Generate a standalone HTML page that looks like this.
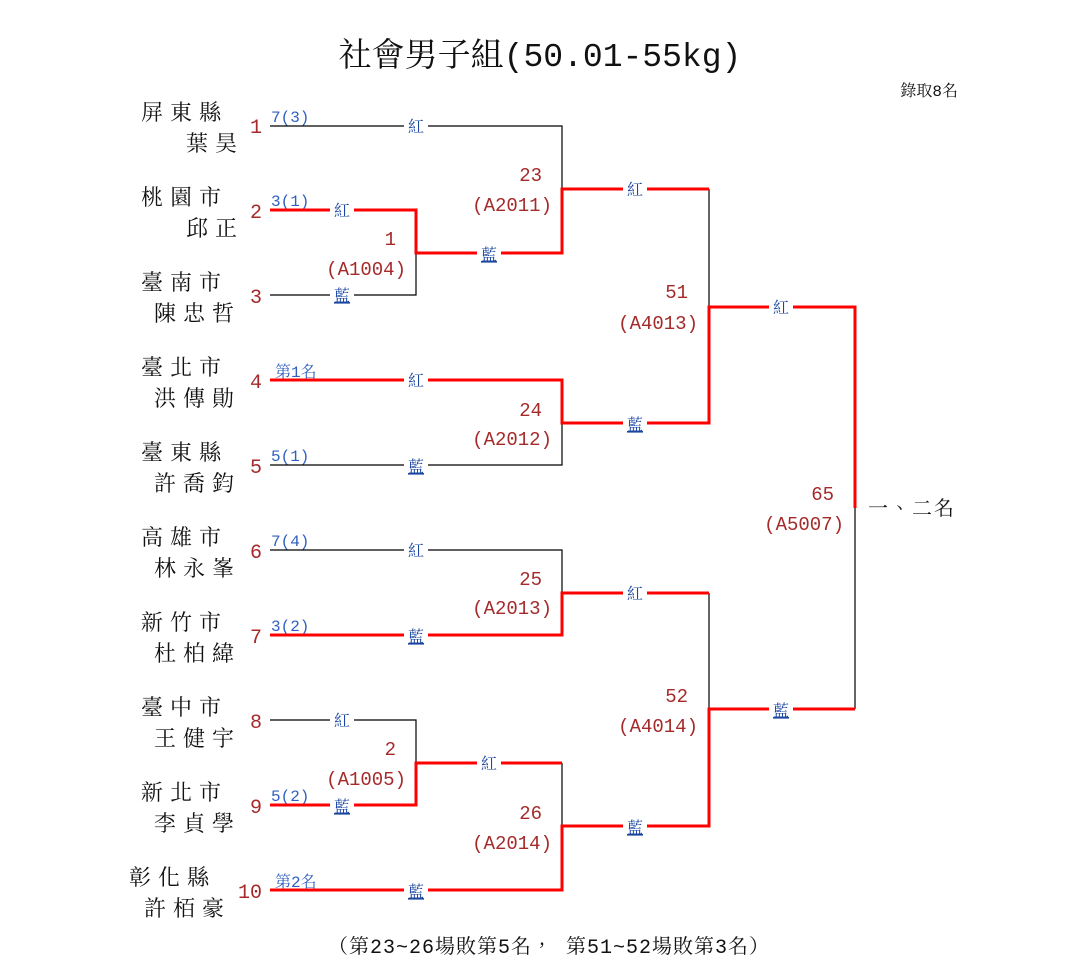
<!DOCTYPE html>
<html><head><meta charset="utf-8"><style>
html,body{margin:0;padding:0;background:#fff}
svg{display:block}
.t{font-family:"Liberation Mono","Noto Serif CJK TC","Noto Serif CJK SC",monospace}
.nm{font-family:"Liberation Serif","Noto Serif CJK TC",serif;font-size:22px;letter-spacing:7px;fill:#111}
.sd{font-size:20px;fill:#a52a2a}
.sm{font-size:16px;fill:#3060c0}
.lb{font-family:"Liberation Serif","Noto Serif CJK TC",serif;font-size:16px;fill:#1a45a0}
.u{text-decoration:underline}
.mn{font-size:19px;fill:#a52a2a}
</style></head><body>
<svg width="1085" height="975" viewBox="0 0 1085 975" xmlns="http://www.w3.org/2000/svg">
<g class="t">
<text x="540" y="66" text-anchor="middle" font-size="33" fill="#111">社會男子組(50.01-55kg)</text>
<text x="958" y="96" text-anchor="end" font-size="16" fill="#111">錄取8名</text>
<text x="549" y="953" text-anchor="middle" font-size="20" letter-spacing="1" fill="#111">（第23~26場敗第5名， 第51~52場敗第3名）</text>

<text class="nm" x="141" y="120">屏東縣</text><text class="nm" x="186" y="151">葉昊</text>
<text class="nm" x="141" y="205">桃園市</text><text class="nm" x="186" y="236">邱正</text>
<text class="nm" x="141" y="290">臺南市</text><text class="nm" x="154" y="321">陳忠哲</text>
<text class="nm" x="141" y="375">臺北市</text><text class="nm" x="154" y="406">洪傳勛</text>
<text class="nm" x="141" y="460">臺東縣</text><text class="nm" x="154" y="491">許喬鈞</text>
<text class="nm" x="141" y="545">高雄市</text><text class="nm" x="154" y="576">林永峯</text>
<text class="nm" x="141" y="630">新竹市</text><text class="nm" x="154" y="661">杜柏緯</text>
<text class="nm" x="141" y="715">臺中市</text><text class="nm" x="154" y="746">王健宇</text>
<text class="nm" x="141" y="800">新北市</text><text class="nm" x="154" y="831">李貞學</text>
<text class="nm" x="129" y="885">彰化縣</text><text class="nm" x="144" y="916">許栢豪</text>

<text class="sd" x="262" y="133" text-anchor="end">1</text>
<text class="sd" x="262" y="218" text-anchor="end">2</text>
<text class="sd" x="262" y="303" text-anchor="end">3</text>
<text class="sd" x="262" y="388" text-anchor="end">4</text>
<text class="sd" x="262" y="473" text-anchor="end">5</text>
<text class="sd" x="262" y="558" text-anchor="end">6</text>
<text class="sd" x="262" y="643" text-anchor="end">7</text>
<text class="sd" x="262" y="728" text-anchor="end">8</text>
<text class="sd" x="262" y="813" text-anchor="end">9</text>
<text class="sd" x="262" y="898" text-anchor="end">10</text>

<text class="sm" x="271" y="122">7(3)</text>
<text class="sm" x="271" y="206">3(1)</text>
<text class="sm" x="275" y="377" font-size="15">第1名</text>
<text class="sm" x="271" y="461">5(1)</text>
<text class="sm" x="271" y="546">7(4)</text>
<text class="sm" x="271" y="631">3(2)</text>
<text class="sm" x="271" y="801">5(2)</text>
<text class="sm" x="275" y="887" font-size="15">第2名</text>
</g>

<g stroke="#000" stroke-width="1.2" fill="none">
<path d="M270 126H562V189"/>
<path d="M270 295H416V253"/>
<path d="M562 423V465H270"/>
<path d="M709 189V307"/>
<path d="M270 550H562V593"/>
<path d="M270 720H416V763"/>
<path d="M562 763V826"/>
<path d="M709 593V709"/>
<path d="M855 508V709"/>
</g>
<g stroke="#ff0000" stroke-width="3" fill="none">
<path d="M270 210H416V253H562V189H709"/>
<path d="M270 380H562V423H709V307H855V508"/>
<path d="M270 635H562V593H709"/>
<path d="M270 805H416V763H562"/>
<path d="M270 890H562V826H709V709H855"/>
</g>

<g class="t">
<g fill="#fff">
<rect x="404" y="116" width="24" height="20"/>
<rect x="330" y="200" width="24" height="20"/>
<rect x="330" y="285" width="24" height="20"/>
<rect x="477" y="243" width="24" height="20"/>
<rect x="623" y="179" width="24" height="20"/>
<rect x="404" y="370" width="24" height="20"/>
<rect x="404" y="455" width="24" height="20"/>
<rect x="623" y="413" width="24" height="20"/>
<rect x="769" y="297" width="24" height="20"/>
<rect x="404" y="540" width="24" height="20"/>
<rect x="404" y="625" width="24" height="20"/>
<rect x="623" y="583" width="24" height="20"/>
<rect x="330" y="710" width="24" height="20"/>
<rect x="330" y="795" width="24" height="20"/>
<rect x="477" y="753" width="24" height="20"/>
<rect x="404" y="880" width="24" height="20"/>
<rect x="623" y="816" width="24" height="20"/>
<rect x="769" y="699" width="24" height="20"/>
</g>
<text class="lb" x="416" y="132" text-anchor="middle">紅</text>
<text class="lb" x="342" y="216" text-anchor="middle">紅</text>
<text class="lb u" x="342" y="301" text-anchor="middle">藍</text>
<text class="lb u" x="489" y="260" text-anchor="middle">藍</text>
<text class="lb" x="635" y="195" text-anchor="middle">紅</text>
<text class="lb" x="416" y="386" text-anchor="middle">紅</text>
<text class="lb u" x="416" y="472" text-anchor="middle">藍</text>
<text class="lb u" x="635" y="430" text-anchor="middle">藍</text>
<text class="lb" x="781" y="313" text-anchor="middle">紅</text>
<text class="lb" x="416" y="556" text-anchor="middle">紅</text>
<text class="lb u" x="416" y="642" text-anchor="middle">藍</text>
<text class="lb" x="635" y="599" text-anchor="middle">紅</text>
<text class="lb" x="342" y="726" text-anchor="middle">紅</text>
<text class="lb u" x="342" y="812" text-anchor="middle">藍</text>
<text class="lb" x="489" y="769" text-anchor="middle">紅</text>
<text class="lb u" x="416" y="897" text-anchor="middle">藍</text>
<text class="lb u" x="635" y="833" text-anchor="middle">藍</text>
<text class="lb u" x="781" y="716" text-anchor="middle">藍</text>

<g class="mn" text-anchor="end">
<text x="542" y="181">23</text><text x="552" y="211">(A2011)</text>
<text x="396" y="245">1</text><text x="406" y="275">(A1004)</text>
<text x="542" y="416">24</text><text x="552" y="445">(A2012)</text>
<text x="688" y="298">51</text><text x="698" y="329">(A4013)</text>
<text x="834" y="500">65</text><text x="844" y="530">(A5007)</text>
<text x="542" y="585">25</text><text x="552" y="614">(A2013)</text>
<text x="688" y="702">52</text><text x="698" y="732">(A4014)</text>
<text x="396" y="755">2</text><text x="406" y="785">(A1005)</text>
<text x="542" y="819">26</text><text x="552" y="849">(A2014)</text>
</g>
<text x="868" y="515" font-size="20" fill="#111" letter-spacing="2">一、二名</text>
</g>
</svg>
</body></html>
